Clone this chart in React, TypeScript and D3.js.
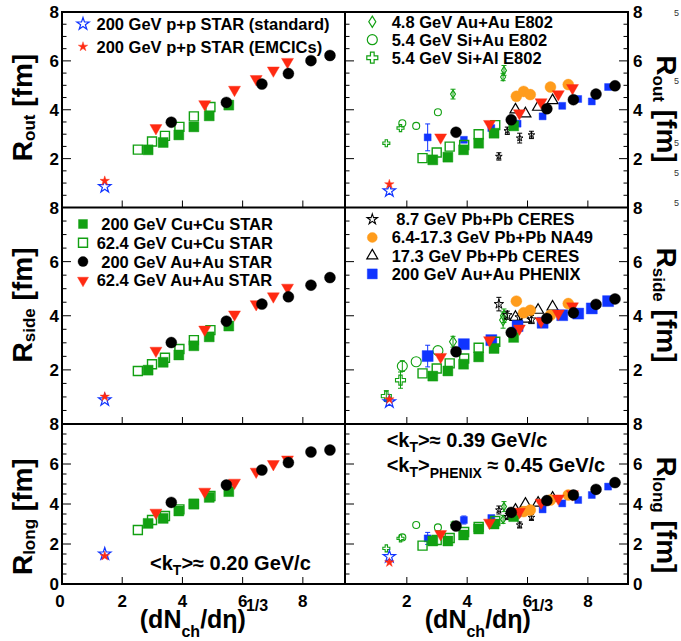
import React from "react";
import * as d3 from "d3";

// ---------------- data ----------------
// x: (dNch/deta)^(1/3)
const X_PP = [1.42];
const X_CUCU200 = [2.86, 3.36, 3.88, 4.38, 4.89, 5.54];
const X_CUCU62 = [2.52, 2.99, 3.42, 3.9, 4.38, 4.93];
const X_AUAU200 = [3.63, 5.46, 6.64, 7.52, 8.27, 8.9];
const X_AUAU62 = [3.12, 4.74, 5.73, 6.45, 7.02, 7.49];
const X_PHENIX = [2.69, 3.89, 4.8, 5.67, 6.5, 7.15, 7.68, 8.13, 8.67];
const X_NA49 = [5.63, 5.87, 6.09, 6.76, 7.35];
const X_CERES173 = [5.6, 5.93, 6.35, 6.83];
const X_CERES87 = [5.05, 5.33, 5.74, 6.13];
const X_E802_AUAU = [3.53, 5.19, 5.22];
const X_E802_SIAU = [1.85, 2.31, 3.03];
const X_E802_SIAL = [1.32, 1.79];

// <kT> ~ 0.20 GeV/c (left column)
const ROUT_PPSTD_020 = [0.85];
const RSIDE_PPSTD_020 = [0.89];
const RLONG_PPSTD_020 = [1.5];
const ROUT_PPEMC_020 = [1.09];
const RSIDE_PPEMC_020 = [1.01];
const RLONG_PPEMC_020 = [1.4];
const ROUT_CUCU200_020 = [2.36, 2.66, 2.97, 3.3, 3.75, 4.19];
const RSIDE_CUCU200_020 = [1.99, 2.28, 2.55, 2.89, 3.22, 3.62];
const RLONG_CUCU200_020 = [3.03, 3.28, 3.65, 4.0, 4.33, 4.62];
const ROUT_CUCU62_020 = [2.37, 2.7, 2.93, 3.3, 3.73, 4.11];
const RSIDE_CUCU62_020 = [1.96, 2.21, 2.45, 2.77, 3.1, 3.47];
const RLONG_CUCU62_020 = [2.7, 3.2, 3.4, 3.73, 4.0, 4.4];
const ROUT_AUAU200_020 = [3.49, 4.3, 5.05, 5.48, 6.01, 6.22];
const RSIDE_AUAU200_020 = [3.01, 3.8, 4.43, 4.7, 5.13, 5.41];
const RLONG_AUAU200_020 = [4.08, 4.95, 5.7, 6.07, 6.6, 6.7];
const ROUT_AUAU62_020 = [3.25, 4.23, 4.82, 5.26, 5.61, 5.96];
const RSIDE_AUAU62_020 = [2.71, 3.49, 4.05, 4.43, 4.72, 5.04];
const RLONG_AUAU62_020 = [3.57, 4.62, 5.07, 5.62, 6.0, 6.23];

// <kT> ~ 0.39 GeV/c (right column)
const ROUT_PPSTD_039 = [0.68];
const RSIDE_PPSTD_039 = [0.82];
const RLONG_PPSTD_039 = [1.37];
const ROUT_PPEMC_039 = [0.95];
const RSIDE_PPEMC_039 = [0.91];
const RLONG_PPEMC_039 = [1.08];
const ROUT_CUCU200_039 = [1.95, 2.06, 2.36, 2.63, 3.04, 3.34];
const RSIDE_CUCU200_039 = [1.77, 1.96, 2.21, 2.48, 2.79, 3.2];
const RLONG_CUCU200_039 = [2.15, 2.15, 2.45, 2.75, 3.0, 3.37];
const ROUT_CUCU62_039 = [2.02, 2.25, 2.49, 2.56, 3.0, 3.37];
const RSIDE_CUCU62_039 = [1.87, 2.05, 2.24, 2.42, 2.82, 3.04];
const RLONG_CUCU62_039 = [1.92, 2.2, 2.3, 2.6, 2.85, 3.15];
const ROUT_AUAU200_039 = [3.08, 3.59, 4.04, 4.41, 4.64, 4.98];
const RSIDE_AUAU200_039 = [2.67, 3.38, 3.9, 4.11, 4.42, 4.62];
const RLONG_AUAU200_039 = [2.9, 3.58, 4.17, 4.45, 4.73, 5.07];
const ROUT_AUAU62_039 = [2.87, 3.42, 3.86, 4.31, 4.64, 4.89];
const RSIDE_AUAU62_039 = [2.48, 3.1, 3.53, 3.8, 4.08, 4.35];
const RLONG_AUAU62_039 = [2.5, 3.07, 3.62, 4.07, 4.28, 4.49];

const ROUT_PHENIX = [2.87, 2.77, 3.25, 3.43, 3.73, 4.16, 4.44, 4.34, 4.93];
const RSIDE_PHENIX = [2.51, 2.95, 3.1, 3.62, 3.74, 4.02, 4.08, 4.27, 4.54];
const RLONG_PHENIX = [2.28, 3.2, 3.3, 3.55, 3.73, 4.03, 4.2, 4.45, 4.87];
const EOUT_PHENIX = [0.55, 0, 0, 0, 0, 0, 0, 0, 0];
const ESIDE_PHENIX = [0.4, 0, 0, 0, 0, 0, 0, 0, 0];
const ELONG_PHENIX = [0.3, 0.2, 0, 0, 0, 0, 0, 0, 0];

const ROUT_NA49 = [4.55, 4.75, 4.62, 4.93, 5.03];
const RSIDE_NA49 = [4.54, 4.11, 4.2, 4.02, 4.45];
const RLONG_NA49 = [3.5, 3.62, 3.7, 4.2, 4.45];

const ROUT_CERES173 = [4.0, 3.84, 4.11, 4.38];
const RSIDE_CERES173 = [3.95, 3.88, 4.21, 4.33];
const RLONG_CERES173 = [3.7, 4.0, 4.05, 4.3];

const ROUT_CERES87 = [2.09, 3.14, 2.84, 2.97];
const RSIDE_CERES87 = [4.43, 4.02, 3.94, 3.86];
const RLONG_CERES87 = [3.7, 3.37, 2.95, 3.33];
const EOUT_CERES87 = [0.15, 0.15, 0.2, 0.15];
const ESIDE_CERES87 = [0.25, 0.15, 0.15, 0.15];
const ELONG_CERES87 = [0.2, 0.15, 0.15, 0.15];

const ROUT_E802_AUAU = [4.64, 5.34, 5.61];
const RSIDE_E802_AUAU = [3.04, 3.84, 4.0];
const RLONG_E802_AUAU = [2.95, 3.23, 3.87];
const EOUT_E802_AUAU = [0.2, 0.15, 0.2];
const ESIDE_E802_AUAU = [0.2, 0.3, 0.25];
const ELONG_E802_AUAU = [0.15, 0.2, 0.25];

const ROUT_E802_SIAU = [3.45, 3.34, 3.9];
const RSIDE_E802_SIAU = [2.14, 2.3, 2.71];
const RLONG_E802_SIAU = [2.33, 2.95, 2.83];
const ESIDE_E802_SIAU = [0.2, 0, 0];

const ROUT_E802_SIAL = [2.63, 3.25];
const RSIDE_E802_SIAL = [1.03, 1.62];
const RLONG_E802_SIAL = [1.78, 2.28];
const ESIDE_E802_SIAL = [0.2, 0.3];

const X_TICKS_LEFT = [0, 2, 4, 6, 8];
const X_TICKS_RIGHT = [2, 4, 6, 8];
const Y_TICKS_TOP = [2, 4, 6, 8];
const Y_TICKS_BOTTOM = [0, 2, 4, 6, 8];

const LEGEND_PP = ["200 GeV p+p STAR (standard)", "200 GeV p+p STAR (EMCICs)"];
const LEGEND_STAR = [" 200 GeV Cu+Cu STAR", "62.4 GeV Cu+Cu STAR", " 200 GeV Au+Au STAR", "62.4 GeV Au+Au STAR"];
const LEGEND_E802 = ["4.8 GeV Au+Au E802", "5.4 GeV Si+Au E802", "5.4 GeV Si+Al E802"];
const LEGEND_SPS = [" 8.7 GeV Pb+Pb CERES", "6.4-17.3 GeV Pb+Pb NA49", "17.3 GeV Pb+Pb CERES", "200 GeV Au+Au PHENIX"];
const Y_TITLES = ["out", "side", "long"];

// ---------------- styles ----------------
const FONT = "'Liberation Sans', Arial, Helvetica, sans-serif";
const GREEN = "#12a012";
const RED = "#ff2a12";
const BLUE = "#1034ff";
const ORANGE = "#ff9c1c";
const BLACK = "#000";
const LEG_FS = 16.5;

type St = { shape: string; w: number; color: string; filled: boolean; rot?: number; sw?: number };
const st = (shape: string, w: number, color: string, filled: boolean, rot = 0, sw = 1.3): St => ({ shape, w, color, filled, rot, sw });

function symPath(shape: string, w: number): string {
  switch (shape) {
    case "square":
      return d3.symbol(d3.symbolSquare, w * w)() as string;
    case "circle":
      return d3.symbol(d3.symbolCircle, (Math.PI * w * w) / 4)() as string;
    case "triangle":
      return d3.symbol(d3.symbolTriangle, (w * w * Math.sqrt(3)) / 4)() as string;
    case "star":
      return d3.symbol(d3.symbolStar, (w / 2) * (w / 2) / 0.8908)() as string;
    case "cross":
      return d3.symbol(d3.symbolCross, 5 * (w / 3) * (w / 3))() as string;
    case "diamond": {
      const h = w * 1.6;
      const p = d3.path();
      p.moveTo(0, -h / 2);
      p.lineTo(w / 2, 0);
      p.lineTo(0, h / 2);
      p.lineTo(-w / 2, 0);
      p.closePath();
      return p.toString();
    }
  }
  return "";
}

function Marker({ x, y, s }: { x: number; y: number; s: St }) {
  return (
    <path
      d={symPath(s.shape, s.w)}
      transform={`translate(${x},${y})${s.rot ? ` rotate(${s.rot})` : ""}`}
      fill={s.filled ? s.color : "none"}
      stroke={s.color}
      strokeWidth={s.filled ? 0.4 : s.sw}
    />
  );
}

// panel geometry
const COLS = [
  { x0: 62, x1: 345, r0: 62, r1: 345, dmax: 9.4 },
  { x0: 345, x1: 628, r0: 346.5, r1: 628, dmax: 9.33 },
];
const ROWS = [
  { y0: 12, y1: 207.5 },
  { y0: 207.5, y1: 424 },
  { y0: 424, y1: 584 },
];

type Series = { x: number[]; y: number[]; e?: number[]; s: St };

function leftSeries(row: number): Series[] {
  const out = [ROUT_CUCU62_020, RSIDE_CUCU62_020, RLONG_CUCU62_020][row];
  const cu = [ROUT_CUCU200_020, RSIDE_CUCU200_020, RLONG_CUCU200_020][row];
  const a62 = [ROUT_AUAU62_020, RSIDE_AUAU62_020, RLONG_AUAU62_020][row];
  const a200 = [ROUT_AUAU200_020, RSIDE_AUAU200_020, RLONG_AUAU200_020][row];
  const pps = [ROUT_PPSTD_020, RSIDE_PPSTD_020, RLONG_PPSTD_020][row];
  const ppe = [ROUT_PPEMC_020, RSIDE_PPEMC_020, RLONG_PPEMC_020][row];
  return [
    { x: X_CUCU62, y: out, s: st("square", 9, GREEN, false, 0, 1.4) },
    { x: X_CUCU200, y: cu, s: st("square", 10, GREEN, true) },
    { x: X_AUAU62, y: a62, s: st("triangle", 12, RED, true, 180) },
    { x: X_AUAU200, y: a200, s: st("circle", 11, BLACK, true) },
    { x: X_PP, y: pps, s: st("star", 13, BLUE, false, 0, 1.2) },
    { x: X_PP, y: ppe, s: st("star", 10, RED, true) },
  ];
}

function rightSeries(row: number): Series[] {
  const small = row !== 1;
  return [
    { x: X_E802_AUAU, y: [ROUT_E802_AUAU, RSIDE_E802_AUAU, RLONG_E802_AUAU][row], e: [EOUT_E802_AUAU, ESIDE_E802_AUAU, ELONG_E802_AUAU][row], s: st("diamond", small ? 5 : 7, GREEN, false, 0, 1.1) },
    { x: X_E802_SIAU, y: [ROUT_E802_SIAU, RSIDE_E802_SIAU, RLONG_E802_SIAU][row], e: [undefined, ESIDE_E802_SIAU, undefined][row], s: st("circle", small ? 7 : 10, GREEN, false, 0, 1.1) },
    { x: X_E802_SIAL, y: [ROUT_E802_SIAL, RSIDE_E802_SIAL, RLONG_E802_SIAL][row], e: [undefined, ESIDE_E802_SIAL, undefined][row], s: st("cross", small ? 7 : 10, GREEN, false, 0, 1.1) },
    { x: X_CERES87, y: [ROUT_CERES87, RSIDE_CERES87, RLONG_CERES87][row], e: [EOUT_CERES87, ESIDE_CERES87, ELONG_CERES87][row], s: st("star", small ? 7 : 10, BLACK, false, 0, 1) },
    { x: X_CERES173, y: [ROUT_CERES173, RSIDE_CERES173, RLONG_CERES173][row], s: st("triangle", 11, BLACK, false, 0, 1.2) },
    { x: X_NA49, y: [ROUT_NA49, RSIDE_NA49, RLONG_NA49][row], s: st("circle", 11, ORANGE, true) },
    { x: X_PHENIX, y: [ROUT_PHENIX, RSIDE_PHENIX, RLONG_PHENIX][row], e: [EOUT_PHENIX, ESIDE_PHENIX, ELONG_PHENIX][row], s: st("square", small ? 7 : 11, BLUE, true) },
    { x: X_CUCU62, y: [ROUT_CUCU62_039, RSIDE_CUCU62_039, RLONG_CUCU62_039][row], s: st("square", 9, GREEN, false, 0, 1.4) },
    { x: X_CUCU200, y: [ROUT_CUCU200_039, RSIDE_CUCU200_039, RLONG_CUCU200_039][row], s: st("square", 10, GREEN, true) },
    { x: X_AUAU62, y: [ROUT_AUAU62_039, RSIDE_AUAU62_039, RLONG_AUAU62_039][row], s: st("triangle", 12, RED, true, 180) },
    { x: X_AUAU200, y: [ROUT_AUAU200_039, RSIDE_AUAU200_039, RLONG_AUAU200_039][row], s: st("circle", 11, BLACK, true) },
    { x: X_PP, y: [ROUT_PPSTD_039, RSIDE_PPSTD_039, RLONG_PPSTD_039][row], s: st("star", 13, BLUE, false, 0, 1.2) },
    { x: X_PP, y: [ROUT_PPEMC_039, RSIDE_PPEMC_039, RLONG_PPEMC_039][row], s: st("star", 10, RED, true) },
  ];
}

function Panel({ row, col }: { row: number; col: number }) {
  const C = COLS[col];
  const R = ROWS[row];
  const x = d3.scaleLinear().domain([0, C.dmax]).range([C.r0, C.r1]);
  const y = d3.scaleLinear().domain([0, 8]).range([R.y1, R.y0]);
  const series = col === 0 ? leftSeries(row) : rightSeries(row);
  const minor = d3.range(0, 8.01, 0.5);
  const yLabels = row === 2 ? Y_TICKS_BOTTOM : Y_TICKS_TOP;
  const edges = col === 0 ? [{ x: C.x0, dir: 1 }] : [{ x: C.x0, dir: 1 }, { x: C.x1, dir: -1 }];
  return (
    <g>
      {edges.map((ed, i) => (
        <g key={i}>
          {minor.map((v) => {
            const major = v % 2 === 0;
            const L = major ? 9 : 4.5;
            return <line key={v} x1={ed.x} x2={ed.x + ed.dir * L} y1={y(v)} y2={y(v)} stroke="#000" strokeWidth={1} />;
          })}
        </g>
      ))}
      {[2, 4, 6, 8].map((v) => (
        <line key={v} x1={x(v)} x2={x(v)} y1={R.y1} y2={R.y1 - 7} stroke="#000" strokeWidth={1} />
      ))}
      {yLabels.map((v) => (
        <text key={v} x={col === 0 ? 59 : 633} y={y(v)} dy="0.36em" textAnchor={col === 0 ? "end" : "start"} fontSize={17} fontWeight="bold" fontFamily={FONT}>
          {v}
        </text>
      ))}
      {series.map((sr, si) => (
        <g key={si}>
          {sr.e &&
            sr.x.map((xv, i) =>
              sr.e![i] > 0 ? (
                <g key={"e" + i} stroke={sr.s.color} strokeWidth={1}>
                  <line x1={x(xv)} x2={x(xv)} y1={y(sr.y[i] - sr.e![i])} y2={y(sr.y[i] + sr.e![i])} />
                  <line x1={x(xv) - 2.5} x2={x(xv) + 2.5} y1={y(sr.y[i] + sr.e![i])} y2={y(sr.y[i] + sr.e![i])} />
                  <line x1={x(xv) - 2.5} x2={x(xv) + 2.5} y1={y(sr.y[i] - sr.e![i])} y2={y(sr.y[i] - sr.e![i])} />
                </g>
              ) : null
            )}
          {sr.x.map((xv, i) => (
            <Marker key={i} x={x(xv)} y={y(sr.y[i])} s={sr.s} />
          ))}
        </g>
      ))}
    </g>
  );
}

function Legend({ x0, y0, dy, items, textX }: { x0: number; y0: number; dy: number; items: { s: St; label: string }[]; textX: number }) {
  return (
    <g>
      {items.map((it, i) => (
        <g key={i}>
          <Marker x={x0} y={y0 + i * dy} s={it.s} />
          <text x={textX} y={y0 + i * dy} dy="0.36em" fontSize={LEG_FS} fontWeight="bold" fontFamily={FONT} style={{ whiteSpace: "pre" }}>
            {it.label}
          </text>
        </g>
      ))}
    </g>
  );
}

function KT({ x, y, val, sub }: { x: number; y: number; val: string; sub?: string }) {
  return (
    <text x={x} y={y} fontSize={20} fontWeight="bold" fontFamily={FONT} style={{ whiteSpace: "pre" }}>
      <tspan>{"<k"}</tspan>
      <tspan fontSize={14} dy={5}>T</tspan>
      <tspan dy={-5}>{">"}</tspan>
      {sub ? (
        <>
          <tspan fontSize={14} dy={6}>{sub}</tspan>
          <tspan dy={-6}>{" ≈ " + val + " GeV/c"}</tspan>
        </>
      ) : (
        <tspan>{"≈ " + val + " GeV/c"}</tspan>
      )}
    </text>
  );
}

function YTitle({ x, y, sub, rot, subDy }: { x: number; y: number; sub: string; rot: number; subDy: number }) {
  return (
    <text transform={`translate(${x},${y}) rotate(${rot})`} textAnchor="middle" fontSize={28} fontWeight="bold" fontFamily={FONT} style={{ whiteSpace: "pre" }}>
      <tspan>R</tspan>
      <tspan fontSize={17} dy={subDy}>{sub}</tspan>
      <tspan dy={-subDy}>{" [fm]"}</tspan>
    </text>
  );
}

function XTitle({ cx }: { cx: number }) {
  return (
    <text x={cx} y={628} textAnchor="middle" fontSize={25} fontWeight="bold" fontFamily={FONT}>
      <tspan>(dN</tspan>
      <tspan fontSize={16} dy={9}>ch</tspan>
      <tspan dy={-9}>/dη)</tspan>
      <tspan fontSize={16} dy={-17}>1/3</tspan>
    </text>
  );
}

export default function App() {
  const titleCentersL = [107.5, 305, 516.7];
  const titleCentersR = [109, 305, 515];
  const stray = [13, 81, 143, 173, 203];
  const sxL = d3.scaleLinear().domain([0, COLS[0].dmax]).range([COLS[0].r0, COLS[0].r1]);
  const sxR = d3.scaleLinear().domain([0, COLS[1].dmax]).range([COLS[1].r0, COLS[1].r1]);
  return (
    <svg width={681} height={641} style={{ position: "absolute", left: 0, top: 0, background: "#fff" }}>
      <rect x={0} y={0} width={681} height={641} fill="#fff" />
      {[0, 1, 2].map((r) => [0, 1].map((c) => <Panel key={r + "-" + c} row={r} col={c} />))}
      <g stroke="#000" strokeWidth={2} fill="none">
        <rect x={62} y={12} width={566} height={572} />
        <line x1={345} x2={345} y1={12} y2={584} />
        <line x1={62} x2={628} y1={207.5} y2={207.5} />
        <line x1={62} x2={628} y1={424} y2={424} />
      </g>
      {X_TICKS_LEFT.map((v) => (
        <text key={"xl" + v} x={sxL(v) - (v === 0 ? 2 : 0)} y={601} dy="0.36em" textAnchor="middle" fontSize={17} fontWeight="bold" fontFamily={FONT}>
          {v}
        </text>
      ))}
      {X_TICKS_RIGHT.map((v) => (
        <text key={"xr" + v} x={sxR(v)} y={601} dy="0.36em" textAnchor="middle" fontSize={17} fontWeight="bold" fontFamily={FONT}>
          {v}
        </text>
      ))}
      {Y_TITLES.map((t, i) => (
        <YTitle key={"yl" + t} x={32} y={titleCentersL[i]} sub={t} rot={-90} subDy={3} />
      ))}
      {Y_TITLES.map((t, i) => (
        <YTitle key={"yr" + t} x={657} y={titleCentersR[i]} sub={t} rot={90} subDy={4} />
      ))}
      <XTitle cx={204} />
      <XTitle cx={489} />
      <Legend
        x0={83}
        y0={24}
        dy={22.7}
        textX={96.5}
        items={[
          { s: st("star", 13, BLUE, false, 0, 1.2), label: LEGEND_PP[0] },
          { s: st("star", 10, RED, true), label: LEGEND_PP[1] },
        ]}
      />
      <Legend
        x0={83}
        y0={224}
        dy={18.8}
        textX={96.7}
        items={[
          { s: st("square", 9, GREEN, true), label: LEGEND_STAR[0] },
          { s: st("square", 9, GREEN, false, 0, 1.4), label: LEGEND_STAR[1] },
          { s: st("circle", 10, BLACK, true), label: LEGEND_STAR[2] },
          { s: st("triangle", 11, RED, true, 180), label: LEGEND_STAR[3] },
        ]}
      />
      <Legend
        x0={372.3}
        y0={21.7}
        dy={18}
        textX={391.7}
        items={[
          { s: st("diamond", 7, GREEN, false, 0, 1.2), label: LEGEND_E802[0] },
          { s: st("circle", 10, GREEN, false, 0, 1.2), label: LEGEND_E802[1] },
          { s: st("cross", 11, GREEN, false, 0, 1.2), label: LEGEND_E802[2] },
        ]}
      />
      <Legend
        x0={372.3}
        y0={219.3}
        dy={18.2}
        textX={391.7}
        items={[
          { s: st("star", 11, BLACK, false, 0, 1.1), label: LEGEND_SPS[0] },
          { s: st("circle", 10, ORANGE, true), label: LEGEND_SPS[1] },
          { s: st("triangle", 11, BLACK, false, 0, 1.2), label: LEGEND_SPS[2] },
          { s: st("square", 10, BLUE, true), label: LEGEND_SPS[3] },
        ]}
      />
      <KT x={150} y={570} val="0.20" />
      <KT x={386.7} y={447.3} val="0.39" />
      <KT x={386.7} y={471.7} val="0.45" sub="PHENIX" />
      {stray.map((yy, i) => (
        <text key={"s" + i} x={674} y={yy} dy="0.36em" fontSize={9} fill="#333" fontFamily={FONT}>
          5
        </text>
      ))}
    </svg>
  );
}
